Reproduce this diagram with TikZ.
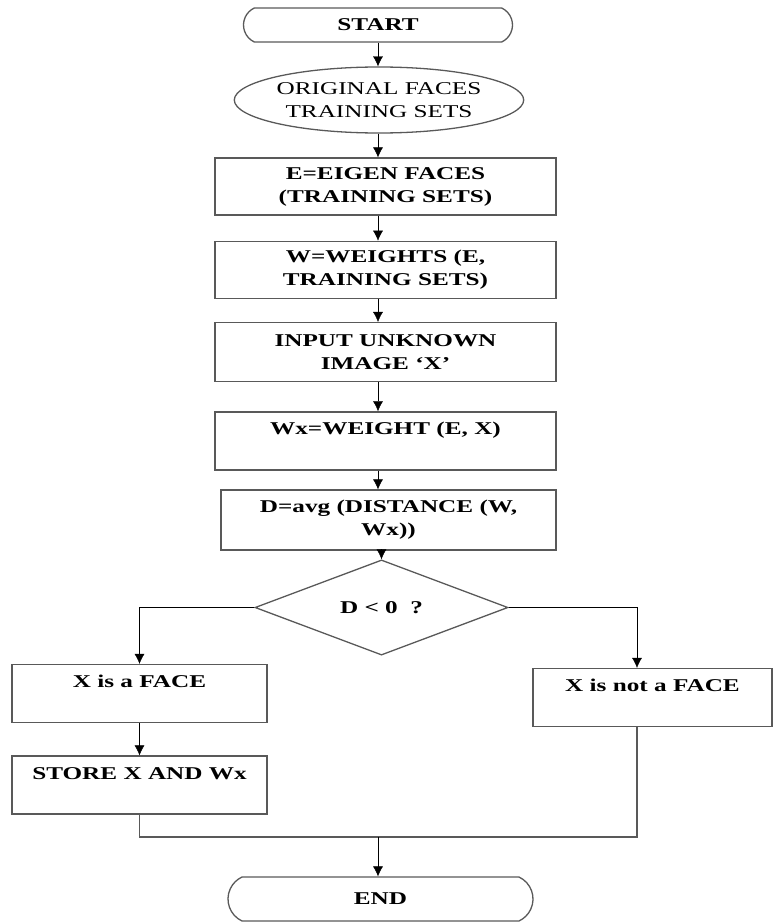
\documentclass[tikz,border=0pt]{standalone}
\usepackage{fontspec}
\setmainfont{Liberation Serif}[FakeStretch=1.4]
\usetikzlibrary{shapes,arrows.meta,calc,positioning}
\definecolor{framegray}{gray}{0.35}
\tikzset{
    -{Latex[length=10pt,width=10pt]},line width=1.8pt,
    txt/.style = {font=\fontsize{18}{23}\selectfont, align=center, inner sep=0pt},
    term/.style = {rounded rectangle, rounded rectangle arc length=130, draw=framegray, line width=1.3pt, txt, font=\bfseries\fontsize{18}{23}\selectfont},
    data/.style = {ellipse, draw=framegray, line width=1.3pt, txt},
    box/.style = {rectangle, draw=framegray, line width=1.3pt, txt, font=\bfseries\fontsize{18}{23}\selectfont},
    onebox/.style = {box, text height=23pt, text depth=35pt},
    test/.style = {diamond, draw=framegray, line width=1.3pt, txt, font=\bfseries\fontsize{18}{23}\selectfont},
    mergeline/.style = {-, draw=framegray, line width=1.3pt}
}
\begin{document}
\begin{tikzpicture}[x=1pt,y=-1pt]
    \useasboundingbox (0,0) rectangle (773,923);
    \node (1) [term, minimum width=269pt, minimum height=34pt] at (378,25) {START};
    \node (2) [data, minimum width=278pt, minimum height=66pt] at (379,100) {ORIGINAL FACES\\TRAINING SETS};
    \node (3) [box, minimum width=341pt, minimum height=57pt] at (385.5,186.5) {E=EIGEN FACES\\(TRAINING SETS)};
    \node (4) [box, minimum width=341pt, minimum height=57pt, below = 25pt of 3] {W=WEIGHTS (E,\\TRAINING SETS)};
    \node (5) [box, minimum width=341pt, minimum height=59pt, below = 23pt of 4] {INPUT UNKNOWN\\IMAGE `X'};
    \node (6) [onebox, minimum width=341pt, below = 29pt of 5] {Wx=WEIGHT (E, X)};
    \node (7) [box, minimum width=335pt, minimum height=60pt] at (388.5,520) {D=avg (DISTANCE (W,\\Wx))};
    \node (8) [test, minimum width=253pt, minimum height=69pt] at (381.5,607.5) {D < 0~~?};
    \node (9) [onebox, minimum width=255pt] at (139.5,693.5) {X is a FACE};
    \node (10) [onebox, minimum width=255pt] at (139.5,785) {STORE X AND Wx};
    \node (11) [onebox, minimum width=239pt] at (652.5,697.5) {X is not a FACE};
    \node (12) [term, minimum width=305pt, minimum height=44pt] at (380.5,899) {END};
    \coordinate (13) at (378,837);
    \coordinate (14) at (637,607);

    \draw (1.south) -- (1.south |- 2.north);
    \draw (2.south -| 1.south) -- (3.north -| 1.south);
    \draw (3.south -| 1.south) -- (4.north -| 1.south);
    \draw (4.south -| 1.south) -- (5.north -| 1.south);
    \draw (5.south -| 1.south) -- (6.north -| 1.south);
    \draw (6.south -| 1.south) -- (7.north -| 1.south);
    \draw (8.north |- 7.south) -- (8.north);
    \draw (8.west) -| (9.north);
    \draw (8.east) -| (14 |- 11.north);
    \draw (9) -- (10);
    \draw[mergeline] (10.south) |- (13) -| (14 |- 11.south);
    \draw (13) -- (13 |- 12.north);
\end{tikzpicture}
\end{document}
